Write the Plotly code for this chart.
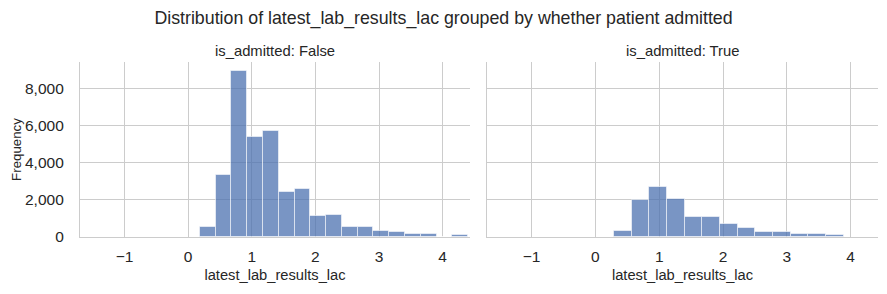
import plotly.graph_objects as go

# Data (histogram bins per facet)
false_edges = [0.185, 0.433, 0.681, 0.929, 1.177, 1.425, 1.673, 1.921, 2.169, 2.417,
               2.665, 2.913, 3.161, 3.409, 3.657, 3.905, 4.153, 4.401]
false_counts = [540, 3350, 8970, 5400, 5730, 2430, 2590, 1150, 1200, 540,
                540, 320, 270, 180, 180, 0, 125]

true_edges = [0.290, 0.567, 0.844, 1.121, 1.398, 1.675, 1.952, 2.229, 2.506, 2.783,
              3.060, 3.337, 3.614, 3.891]
true_counts = [324, 2000, 2700, 2050, 1080, 1080, 700, 486, 270, 270, 160, 160, 100]

panel_titles = ["is_admitted: False", "is_admitted: True"]
x_tick_vals = [-1, 0, 1, 2, 3, 4]
x_tick_text = ["\u22121", "0", "1", "2", "3", "4"]
y_tick_vals = [0, 2000, 4000, 6000, 8000]
x_range = [-1.70, 4.43]
y_range = [0, 9450]

FONT = "Liberation Sans, Arial, sans-serif"
GRID = "#cccccc"
BAR = "rgba(76,114,176,0.75)"
TXT = "#262626"

fig = go.Figure()

def add_hist(edges, counts, xa, ya):
    centers = [(edges[i] + edges[i + 1]) / 2 for i in range(len(counts))]
    widths = [edges[i + 1] - edges[i] for i in range(len(counts))]
    fig.add_trace(go.Bar(
        x=centers, y=counts, width=widths, xaxis=xa, yaxis=ya,
        marker=dict(color=BAR, line=dict(color="rgba(255,255,255,0.55)", width=1)),
        showlegend=False, hoverinfo="x+y"))

add_hist(false_edges, false_counts, "x", "y")
add_hist(true_edges, true_counts, "x2", "y2")

W = 887
ml, mr = 80, 9
pw = W - ml - mr
d1 = [0, (470 - ml) / pw]
d2 = [(487 - ml) / pw, 1]

xcommon = dict(range=x_range, tickvals=x_tick_vals, ticktext=x_tick_text,
               showgrid=True, gridcolor=GRID, gridwidth=1.2, zeroline=False,
               showline=True, linecolor=GRID, linewidth=1.25, ticks="",
               ticklabelstandoff=5,
               tickfont=dict(family=FONT, size=15.5, color=TXT),
               title=dict(text="latest_lab_results_lac", standoff=5,
                          font=dict(family=FONT, size=14.7, color=TXT)))
ycommon = dict(range=y_range, tickvals=y_tick_vals, showgrid=True, gridcolor=GRID,
               gridwidth=1.2, zeroline=False, showline=True, linecolor=GRID,
               linewidth=1.25, ticks="", tickformat=",d")

fig.update_layout(
    width=W, height=294,
    margin=dict(l=ml, r=mr, t=62, b=57),
    paper_bgcolor="white", plot_bgcolor="white",
    bargap=0,
    title=dict(text="Distribution of latest_lab_results_lac grouped by whether patient admitted",
               x=0.5, xanchor="center", y=1 - 18 / 294, yanchor="middle",
               font=dict(family=FONT, size=17.8, color=TXT)),
    xaxis=dict(domain=d1, anchor="y", **xcommon),
    xaxis2=dict(domain=d2, anchor="y2", **xcommon),
    yaxis=dict(domain=[0, 1], anchor="x", showticklabels=True, ticklabelstandoff=12,
               tickfont=dict(family=FONT, size=15.5, color=TXT),
               title=dict(text="Frequency", standoff=0,
                          font=dict(family=FONT, size=13.3, color=TXT)),
               **ycommon),
    yaxis2=dict(domain=[0, 1], anchor="x2", showticklabels=False, matches="y", **ycommon),
    font=dict(family=FONT, color=TXT),
)

for t, d in zip(panel_titles, [d1, d2]):
    fig.add_annotation(text=t, xref="paper", yref="paper", x=(d[0] + d[1]) / 2,
                       xanchor="center", y=1, yshift=11, yanchor="middle",
                       showarrow=False,
                       font=dict(family=FONT, size=14.8, color=TXT))

fig.write_html("out.html")
